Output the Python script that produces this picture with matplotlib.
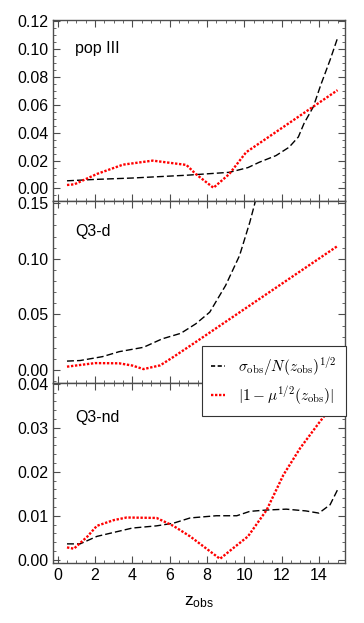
import matplotlib
matplotlib.use("Agg")
import matplotlib.pyplot as plt
from matplotlib.ticker import MultipleLocator, FormatStrFormatter
from matplotlib.lines import Line2D

plt.rcParams['font.family'] = ['Liberation Sans', 'DejaVu Sans']
plt.rcParams['mathtext.fontset'] = 'cm'

# ---- data ----
panel_names = ["pop III", "Q3-d", "Q3-nd"]

z1_sig = [0.5, 2.0, 4.0, 6.9, 8.0, 9.2, 10.2, 10.8, 11.7, 12.4, 12.9, 13.2, 13.7, 14.1, 14.6, 15.0]
v1_sig = [0.0055, 0.0065, 0.0075, 0.0095, 0.0105, 0.0116, 0.015, 0.0188, 0.0236, 0.0296, 0.037, 0.0466, 0.0586, 0.0743, 0.0923, 0.108]
z1_mu = [0.5, 0.9, 2.1, 3.5, 5.1, 6.9, 7.4, 8.35, 9.2, 10.1, 15.0]
v1_mu = [0.0025, 0.003, 0.0104, 0.0171, 0.020, 0.0169, 0.0104, 0.0005, 0.0104, 0.026, 0.0706]

z2_sig = [0.5, 1.2, 2.4, 3.3, 4.6, 5.6, 6.6, 7.4, 8.15, 9.0, 9.75, 10.3, 10.6, 11.0]
v2_sig = [0.008, 0.0085, 0.012, 0.0165, 0.0204, 0.028, 0.033, 0.0415, 0.052, 0.076, 0.103, 0.133, 0.152, 0.19]
z2_mu = [0.5, 2.0, 3.3, 4.0, 4.6, 5.5, 6.2, 7.3, 15.0]
v2_mu = [0.003, 0.0062, 0.006, 0.004, 0.0008, 0.0042, 0.0117, 0.024, 0.1115]

z3_sig = [0.5, 1.2, 2.1, 4.0, 5.3, 6.2, 7.1, 8.5, 9.6, 10.3, 11.2, 12.25, 13.3, 14.0, 14.6, 15.0]
v3_sig = [0.0036, 0.0036, 0.0053, 0.0072, 0.0077, 0.0083, 0.0095, 0.010, 0.010, 0.011, 0.0113, 0.0115, 0.0111, 0.0106, 0.0125, 0.0159]
z3_mu = [0.5, 0.87, 1.6, 2.1, 3.0, 3.7, 5.3, 6.2, 7.1, 8.7, 9.4, 10.2, 11.2, 12.1, 13.0, 14.0, 14.55, 15.0]
v3_mu = [0.0028, 0.0025, 0.0053, 0.0077, 0.009, 0.0096, 0.0095, 0.0077, 0.0053, 0.0002, 0.0026, 0.0053, 0.0113, 0.0193, 0.0254, 0.0311, 0.0341, 0.0375]

label_sig = r"$\sigma_{\rm obs}/N(z_{\rm obs})^{1/2}$"
label_mu = r"$|1-\mu^{1/2}(z_{\rm obs})|$"

ylims = [(-0.009, 0.121), (-0.0117, 0.152), (-0.00075, 0.0402)]
ymajor = [0.02, 0.05, 0.01]
yminor = [0.005, 0.01, 0.002]
yfmt = ["%.2f", "%.2f", "%.2f"]
label_pos = [0.845, 0.83, 0.81]

fig = plt.figure(figsize=(3.64, 6.23), dpi=100)
W, H = 364, 623
left, right = 53 / W, 345 / W
bounds = [(20, 201), (201, 383), (383, 563)]
axes = []
data = [(z1_sig, v1_sig, z1_mu, v1_mu), (z2_sig, v2_sig, z2_mu, v2_mu), (z3_sig, v3_sig, z3_mu, v3_mu)]
fc = '0.3'
dash = (0, (5, 2.2))
dot = (0, (1, 0.7))
for i, (t, b) in enumerate(bounds):
    ax = fig.add_axes([left, 1 - b / H, right - left, (b - t) / H])
    axes.append(ax)
    zs, vs, zm, vm = data[i]
    ax.plot(zs, vs, color='black', lw=1.0, ls=dash)
    ax.plot(zm, vm, color='red', lw=1.7, ls=dot)
    ax.set_xlim(-0.25, 15.4)
    ax.set_ylim(*ylims[i])
    ax.xaxis.set_major_locator(MultipleLocator(2))
    ax.xaxis.set_minor_locator(MultipleLocator(0.5))
    ax.yaxis.set_major_locator(MultipleLocator(ymajor[i]))
    ax.yaxis.set_minor_locator(MultipleLocator(yminor[i]))
    ax.yaxis.set_major_formatter(FormatStrFormatter(yfmt[i]))
    ax.tick_params(which='both', direction='in', top=True, right=True, color=fc,
                   labelsize=11.5, labelcolor='black')
    ax.tick_params(which='major', length=5, width=0.8)
    ax.tick_params(which='minor', length=2.5, width=0.6)
    for s in ax.spines.values():
        s.set_color(fc)
        s.set_linewidth(1.0)
    if i < 2:
        ax.tick_params(axis='x', labelbottom=False)
    ax.text(0.075, label_pos[i], panel_names[i], transform=ax.transAxes,
            fontsize=11.5, va='center', ha='left')

axes[2].set_xlabel(r"$\mathregular{z_{obs}}$", fontsize=12.5, math_fontfamily='dejavusans', labelpad=8)

handles = [Line2D([], [], color='black', lw=1.2, ls=(0, (2.5, 1.5))),
           Line2D([], [], color='red', lw=1.7, ls=dot)]
leg = fig.legend(handles, [label_sig, label_mu], loc='upper left',
                 bbox_to_anchor=(202 / W, 1 - 346 / H), borderaxespad=0, fontsize=11,
                 handlelength=0.9, handletextpad=0.85, borderpad=0.6,
                 labelspacing=0.45, fancybox=False, framealpha=1, edgecolor='0.2')
leg.get_frame().set_linewidth(0.8)
leg.set_zorder(10)

fig.savefig("out.png", dpi=100)
